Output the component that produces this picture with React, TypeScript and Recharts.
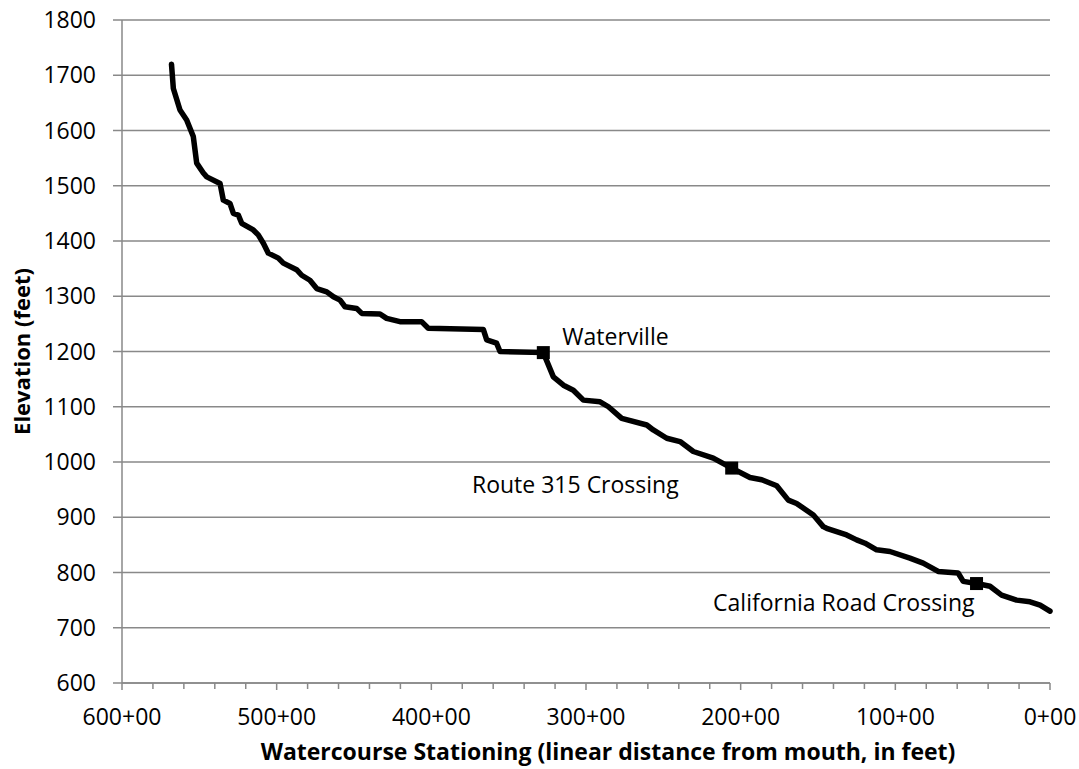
import { ComposedChart, Line, Scatter, XAxis, YAxis, CartesianGrid, Label } from 'recharts'

// Stationing in hundreds of feet (600+00 = 60,000 ft upstream), elevation in feet
const stations = [
  568, 566.8, 562.5, 558.2, 553.9, 551.7, 547.4, 545.2, 536.6, 534.5, 530.2, 528, 524.8, 522.6,
  515.1, 511.9, 508.6, 505.4, 498.9, 495.7, 487.1, 483.8, 478.5, 474.1, 467.6, 463.3, 459, 455.8,
  448.3, 445, 433.2, 428.9, 420.3, 406.3, 402, 366.4, 364.2, 357.8, 355.6, 327.6, 321.1, 314.6,
  308.2, 301.7, 290.9, 285.5, 276.9, 260.7, 256.5, 247.8, 239.2, 230.6, 217.7, 205.8, 194, 186.4,
  176.7, 169.2, 163.8, 153, 146.6, 144.4, 131.5, 125, 119.6, 112.1, 103.5, 90.6, 82, 72.3, 59.4,
  56.1, 47.5, 38.8, 31.3, 21.6, 12.9, 6.4, 1.1, 0,
]
const elevations = [
  1720, 1676, 1637, 1619, 1589, 1541, 1523, 1516, 1504, 1474, 1468, 1450, 1447, 1432,
  1420, 1411, 1396, 1378, 1369, 1360, 1348, 1338, 1329, 1314, 1308, 1299, 1293, 1281,
  1278, 1269, 1268, 1260, 1254, 1254, 1242, 1240, 1221, 1215, 1200, 1198, 1154, 1139,
  1130, 1112, 1109, 1100, 1079, 1067, 1058, 1043, 1037, 1019, 1007, 989, 972, 968,
  957, 931, 925, 904, 883, 880, 868, 859, 853, 841, 838, 826, 817, 802, 799,
  784, 780, 775, 759, 750, 747, 741, 732, 730,
]

const landmarkNames = ['Waterville', 'Route 315 Crossing', 'California Road Crossing']
const landmarkStations = [327.6, 205.8, 47.5]
const landmarkElevations = [1198, 989, 780]

const xTicks = [0, 20, 40, 60, 80, 100, 120, 140, 160, 180, 200, 220, 240, 260, 280, 300, 320, 340, 360, 380, 400, 420, 440, 460, 480, 500, 520, 540, 560, 580, 600]
const yTicks = [600, 700, 800, 900, 1000, 1100, 1200, 1300, 1400, 1500, 1600, 1700, 1800]

const profile = stations.map((s, i) => ({ station: s, elev: elevations[i] }))
const landmarks = landmarkNames.map((name, i) => ({ name, station: landmarkStations[i], elev: landmarkElevations[i] }))

const FONT = '"Open Sans", sans-serif'
const GRAY = '#898989'
const TEXT_SIZE = 23

// where each data label sits relative to its marker
const labelPlacement: Record<string, { dx: number; dy: number; anchor: 'start' | 'end' }> = {
  Waterville: { dx: 19, dy: -8, anchor: 'start' },
  'Route 315 Crossing': { dx: -53, dy: 25, anchor: 'end' },
  'California Road Crossing': { dx: -2, dy: 27, anchor: 'end' },
}

function StationTick(props: any) {
  const { x, y, payload } = props
  const v = payload.value
  const major = v % 100 === 0
  return (
    <g>
      <line x1={x} x2={x} y1={y} y2={y + (major ? 7 : 6)} stroke={GRAY} strokeWidth={1.5} />
      {major && (
        <text x={x} y={y + 42} textAnchor="middle" fontSize={TEXT_SIZE} fontFamily={FONT} fill="#000">
          {`${v}+00`}
        </text>
      )}
    </g>
  )
}

function LandmarkShape(props: any) {
  const { cx, cy, payload } = props
  const p = labelPlacement[payload.name]
  return (
    <g>
      <rect x={cx - 6.5} y={cy - 6.5} width={13} height={13} fill="#000" />
      <text x={cx + p.dx} y={cy + p.dy} textAnchor={p.anchor} fontSize={TEXT_SIZE} fontFamily={FONT} fill="#000">
        {payload.name}
      </text>
    </g>
  )
}

export default function App() {
  return (
    <div style={{ position: 'absolute', left: 0, top: 0, background: '#fff' }}>
      <ComposedChart width={1079} height={769} margin={{ top: 20, right: 29, left: 0, bottom: 0 }}>
        <CartesianGrid vertical={false} stroke={GRAY} strokeWidth={1.5} />
        <XAxis
          dataKey="station"
          type="number"
          domain={[0, 600]}
          ticks={xTicks}
          reversed
          interval={0}
          height={86}
          tickSize={0}
          tickMargin={0}
          tickLine={false}
          axisLine={{ stroke: GRAY, strokeWidth: 1.5 }}
          tick={<StationTick />}
        >
          <Label
            value="Watercourse Stationing (linear distance from mouth, in feet)"
            position="insideBottom"
            offset={9}
            dx={22}
            style={{ fontFamily: FONT, fontSize: 23, fontWeight: 'bold', fill: '#000' }}
          />
        </XAxis>
        <YAxis
          dataKey="elev"
          type="number"
          domain={[600, 1800]}
          ticks={yTicks}
          interval={0}
          width={122}
          tickSize={9}
          tickMargin={17}
          tickLine={{ stroke: GRAY, strokeWidth: 1.5 }}
          axisLine={{ stroke: GRAY, strokeWidth: 1.5 }}
          tick={{ fontFamily: FONT, fontSize: TEXT_SIZE, fill: '#000' }}
        >
          <Label
            value="Elevation (feet)"
            angle={-90}
            position="insideLeft"
            offset={22}
            style={{ fontFamily: FONT, fontSize: 22, fontWeight: 'bold', fill: '#000', textAnchor: 'middle' }}
          />
        </YAxis>
        <Line
          data={profile}
          dataKey="elev"
          type="linear"
          stroke="#000"
          strokeWidth={5.5}
          strokeLinejoin="round"
          strokeLinecap="round"
          dot={false}
          activeDot={false}
          isAnimationActive={false}
        />
        <Scatter data={landmarks} dataKey="elev" shape={<LandmarkShape />} isAnimationActive={false} />
      </ComposedChart>
    </div>
  )
}
